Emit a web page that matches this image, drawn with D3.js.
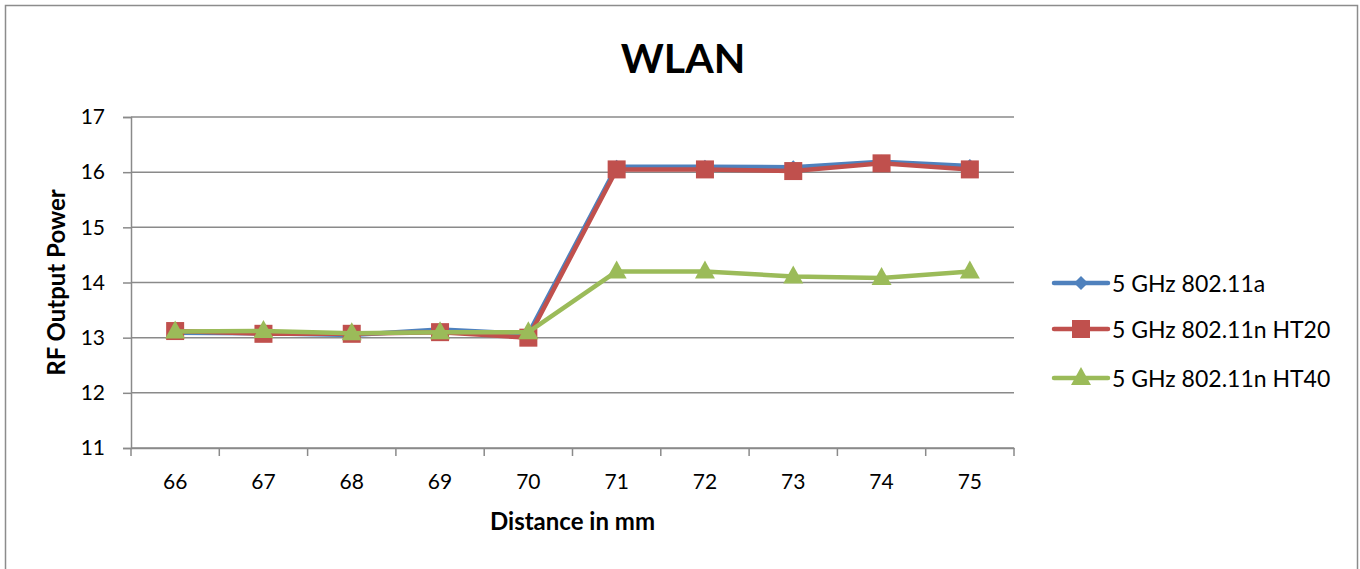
<!DOCTYPE html>
<html><head><meta charset="utf-8">
<script src="https://cdn.jsdelivr.net/npm/d3@7"></script>
<style>body{margin:0;background:#fff;} text{font-family:Lato,"Open Sans",sans-serif;}</style>
</head><body>
<svg id="c" width="1360" height="569"></svg>
<script>
const categories = ["66","67","68","69","70","71","72","73","74","75"];
const seriesNames = ["5 GHz 802.11a","5 GHz 802.11n HT20","5 GHz 802.11n HT40"];
const valuesA    = [13.09,13.08,13.05,13.15,13.07,16.10,16.10,16.09,16.19,16.11];
const valuesHT20 = [13.12,13.07,13.07,13.10,13.00,16.05,16.05,16.02,16.16,16.05];
const valuesHT40 = [13.11,13.12,13.08,13.10,13.10,14.20,14.20,14.11,14.08,14.20];
const yTicks = [11,12,13,14,15,16,17];
const colors = ["#4F81BD","#C0504D","#9BBB59"];
const markers = ["diamond","square","triangle"];

const svg = d3.select("#c");
svg.append("rect").attr("x",5.5).attr("y",5.5).attr("width",1352).attr("height",600)
  .attr("fill","#fff").attr("stroke","#8c8c8c").attr("stroke-width",1.5);

const L=131,R=1014,T=117,B=448;
const x = d3.scaleBand().domain(categories).range([L,R]);
const y = d3.scaleLinear().domain([11,17]).range([B,T]);

// gridlines
svg.append("g").selectAll("line").data(yTicks).join("line")
  .attr("x1",L).attr("x2",R).attr("y1",d=>y(d)).attr("y2",d=>y(d))
  .attr("stroke","#8a8a8a").attr("stroke-width",1.5);

// y axis
const ya = svg.append("g").attr("transform",`translate(${L},0)`)
  .call(d3.axisLeft(y).tickValues(yTicks).tickFormat(d3.format("d")).tickSize(8).tickPadding(18));
ya.select(".domain").attr("stroke","#8a8a8a").attr("stroke-width",1.5);
ya.selectAll(".tick line").attr("stroke","#8a8a8a").attr("stroke-width",1.5);
ya.selectAll("text").attr("font-size",21).attr("fill","#000").attr("font-family","Lato");

// x axis
const xa = svg.append("g").attr("transform",`translate(0,${B})`)
  .call(d3.axisBottom(x).tickSize(0).tickPadding(26));
xa.select(".domain").attr("stroke","#8a8a8a").attr("stroke-width",1.5);
xa.selectAll("text").attr("font-size",21).attr("fill","#000").attr("font-family","Lato");
const bounds = categories.map(c=>x(c)).concat([R]);
svg.append("g").selectAll("line").data(bounds).join("line")
  .attr("x1",d=>d).attr("x2",d=>d).attr("y1",B).attr("y2",B+8)
  .attr("stroke","#8a8a8a").attr("stroke-width",1.5);

function drawMarker(g, type, cx, cy, color){
  if(type==="diamond"){
    g.append("path").attr("d",`M${cx},${cy-7}L${cx+7},${cy}L${cx},${cy+7}L${cx-7},${cy}Z`).attr("fill",color);
  } else if(type==="square"){
    g.append("rect").attr("x",cx-9).attr("y",cy-9).attr("width",18).attr("height",18).attr("fill",color);
  } else {
    g.append("path").attr("d",`M${cx},${cy-11}L${cx+10},${cy+7}L${cx-10},${cy+7}Z`).attr("fill",color);
  }
}

const allSeries = [valuesA,valuesHT20,valuesHT40];
const line = d3.line().x((d,i)=>x(categories[i])+x.bandwidth()/2).y(d=>y(d));
allSeries.forEach((vals,si)=>{
  const g = svg.append("g");
  g.append("path").datum(vals).attr("d",line).attr("fill","none")
    .attr("stroke",colors[si]).attr("stroke-width",4.5).attr("stroke-linejoin","round");
  vals.forEach((v,i)=>drawMarker(g,markers[si],x(categories[i])+x.bandwidth()/2,y(v),colors[si]));
});

// title
svg.append("text").attr("x",683).attr("y",73).attr("text-anchor","middle")
  .attr("font-size",41).attr("font-weight","bold").attr("font-family","Lato").text("WLAN");
// axis titles
svg.append("text").attr("transform",`translate(65,${(T+B)/2}) rotate(-90)`).attr("text-anchor","middle")
  .attr("font-size",24).attr("font-weight","bold").attr("font-family","Lato").text("RF Output Power");
svg.append("text").attr("x",(L+R)/2).attr("y",530).attr("text-anchor","middle")
  .attr("font-size",24).attr("font-weight","bold").attr("font-family","Lato").text("Distance in mm");

// legend
const legY=[283,329,378];
seriesNames.forEach((n,i)=>{
  const g=svg.append("g");
  g.append("line").attr("x1",1054).attr("x2",1108).attr("y1",legY[i]).attr("y2",legY[i])
    .attr("stroke",colors[i]).attr("stroke-width",4.5).attr("stroke-linecap","round");
  drawMarker(g,markers[i],1081,legY[i],colors[i]);
  g.append("text").attr("x",1112).attr("y",legY[i]+9).attr("font-size",23).attr("font-family","Lato").text(n);
});
</script>
</body></html>
